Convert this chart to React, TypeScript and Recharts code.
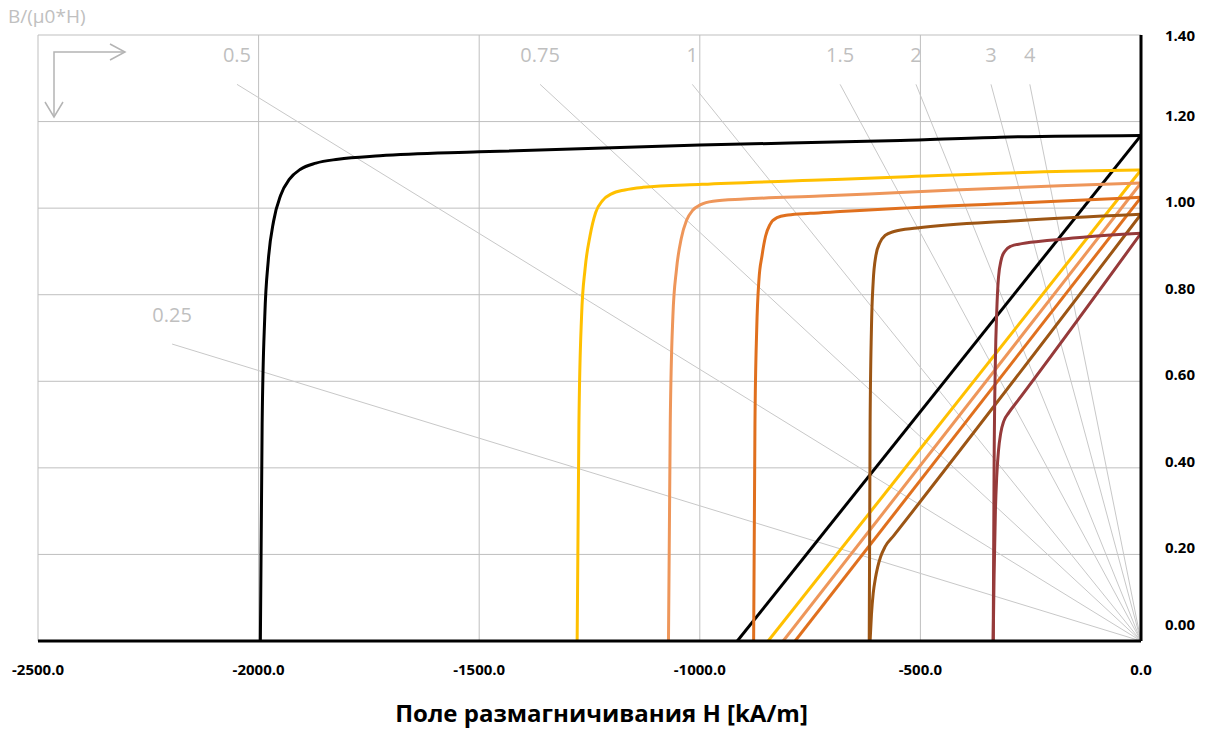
import React from 'react';
import { LineChart, Line, XAxis, YAxis, CartesianGrid, LabelList } from 'recharts';

// H [kA/m] (ascending), B [T]
const blackJ = [
  [-1996, 0], [-1992, 0.5], [-1986, 0.75], [-1978, 0.88], [-1966, 0.97], [-1950, 1.03],
  [-1930, 1.067], [-1905, 1.09], [-1870, 1.104], [-1820, 1.113], [-1725, 1.121],
  [-1500, 1.13], [-1000, 1.146], [-545, 1.156], [-320, 1.164], [0, 1.168],
];
const blackB = [[-915, 0], [0, 1.168]];

const yellowJ = [
  [-1278, 0], [-1274, 0.5], [-1268, 0.75], [-1260, 0.86], [-1249, 0.935], [-1236, 0.99],
  [-1220, 1.018], [-1200, 1.033], [-1170, 1.042], [-1129, 1.048], [-995, 1.055],
  [-728, 1.065], [-546, 1.072], [-168, 1.085], [0, 1.088],
];
const yellowB = [[-845, 0], [0, 1.088]];

const lightOrangeJ = [
  [-1071, 0], [-1067, 0.5], [-1061, 0.75], [-1053, 0.857], [-1042, 0.93], [-1030, 0.972],
  [-1016, 0.995], [-998, 1.008], [-970, 1.016], [-900, 1.021], [-728, 1.028],
  [-546, 1.036], [-184, 1.052], [0, 1.058],
];
const lightOrangeB = [[-811, 0], [0, 1.058]];

const orangeJ = [
  [-878, 0], [-875, 0.5], [-871, 0.72], [-866, 0.834], [-859, 0.89], [-851, 0.935],
  [-841, 0.962], [-825, 0.978], [-800, 0.984], [-750, 0.988], [-682, 0.992],
  [-546, 1.0], [-229, 1.014], [0, 1.025],
];
const orangeB = [[-784, 0], [0, 1.025]];

const brownJ = [
  [-616, 0], [-614, 0.5], [-611, 0.72], [-607, 0.83], [-601, 0.89], [-592, 0.92],
  [-580, 0.937], [-560, 0.946], [-508, 0.954], [-281, 0.971], [0, 0.986],
];
const brownB = [
  [-614, 0], [-611, 0.06], [-607, 0.11], [-602, 0.145], [-597, 0.17], [-590, 0.195],
  [-580, 0.218], [-560, 0.244], [0, 0.986],
];

const maroonJ = [
  [-335, 0], [-333, 0.4], [-330, 0.65], [-327, 0.76], [-323, 0.84], [-317, 0.88],
  [-309, 0.9], [-295, 0.912], [-270, 0.918], [-206, 0.926], [-131, 0.933], [0, 0.942],
];
const maroonB = [
  [-335, 0], [-333, 0.15], [-330, 0.3], [-327, 0.38], [-323, 0.44], [-318, 0.48],
  [-311, 0.508], [-300, 0.527], [-280, 0.554], [0, 0.942],
];

// permeance coefficient lines: label, start H, start B (end at origin)
const loadNames = ['0.25', '0.5', '0.75', '1', '1.5', '2', '3', '4'];
const loadStartH = [-2196, -2049, -1362, -1017, -682, -510, -340, -252];
const loadStartB = [0.686, 1.286, 1.286, 1.286, 1.286, 1.286, 1.286, 1.286];

const xTicks = [-2500, -2000, -1500, -1000, -500, 0];
const yTicks = [0, 0.2, 0.4, 0.6, 0.8, 1.0, 1.2, 1.4];

const curves = [
  { id: 'blackJ', pts: blackJ, color: '#000000' },
  { id: 'blackB', pts: blackB, color: '#000000' },
  { id: 'yellowJ', pts: yellowJ, color: '#FFC000' },
  { id: 'yellowB', pts: yellowB, color: '#FFC000' },
  { id: 'lightOrangeJ', pts: lightOrangeJ, color: '#EE965A' },
  { id: 'lightOrangeB', pts: lightOrangeB, color: '#EE965A' },
  { id: 'orangeJ', pts: orangeJ, color: '#E0701E' },
  { id: 'orangeB', pts: orangeB, color: '#E0701E' },
  { id: 'brownJ', pts: brownJ, color: '#9C5514' },
  { id: 'brownB', pts: brownB, color: '#9C5514' },
  { id: 'maroonJ', pts: maroonJ, color: '#963A3A' },
  { id: 'maroonB', pts: maroonB, color: '#963A3A' },
];

const FONT = '"Open Sans", sans-serif';
const GRAY = '#bfbfbf';

const toRows = (pts: number[][]) => pts.map(([h, b]) => ({ h, b }));

const loadLines = loadNames.map((name, i) => ({
  name,
  rows: [
    { h: loadStartH[i], b: loadStartB[i], name },
    { h: 0, b: 0, name: '' },
  ],
}));

const LoadLabel = (props: any) => {
  const { value } = props;
  if (!value) return null;
  const x = props.x ?? props.viewBox?.x;
  const y = props.y ?? props.viewBox?.y;
  return (
    <text x={x} y={y - 22} textAnchor="middle" fill={GRAY} fontSize={20} fontFamily={FONT}>
      {value}
    </text>
  );
};

const RightTick = (props: any) => {
  const { x, y, payload } = props;
  const v = payload.value;
  const dy = v >= 1.4 ? 0 : v === 0 ? -17 : -7;
  return (
    <text
      x={x}
      y={y + dy}
      textAnchor="start"
      dominantBaseline="central"
      fill="#000"
      fontSize={15}
      fontWeight="bold"
      fontFamily={FONT}
    >
      {v.toFixed(2)}
    </text>
  );
};

export default function App() {
  return (
    <div style={{ position: 'absolute', left: 0, top: 0, width: 1205, height: 733, background: '#fff' }}>
      <LineChart width={1205} height={733} margin={{ top: 35, right: 4, bottom: 0, left: 38 }}>
        <CartesianGrid stroke={GRAY} strokeWidth={1} />
        <XAxis
          type="number"
          dataKey="h"
          domain={[-2500, 0]}
          ticks={xTicks}
          allowDataOverflow
          height={92}
          tickLine={false}
          tickMargin={17}
          axisLine={{ stroke: '#000', strokeWidth: 3 }}
          tickFormatter={(v: number) => v.toFixed(1)}
          tick={{ fill: '#000', fontSize: 15, fontWeight: 'bold', fontFamily: FONT }}
          label={{
            value: 'Поле размагничивания H [kA/m]',
            position: 'insideBottom',
            offset: 11,
            dx: 12,
            fill: '#000',
            fontSize: 24,
            fontWeight: 'bold',
            fontFamily: FONT,
          }}
        />
        <YAxis
          type="number"
          dataKey="b"
          orientation="right"
          domain={[0, 1.4]}
          ticks={yTicks}
          allowDataOverflow
          width={60}
          tickLine={false}
          tickMargin={18}
          axisLine={{ stroke: '#000', strokeWidth: 3 }}
          tick={<RightTick />}
        />
        {loadLines.map((l) => (
          <Line
            key={'load' + l.name}
            data={l.rows}
            dataKey="b"
            type="linear"
            stroke="#c8c8c8"
            strokeWidth={1}
            dot={false}
            activeDot={false}
            isAnimationActive={false}
          >
            <LabelList dataKey="name" content={<LoadLabel />} />
          </Line>
        ))}
        {curves.map((c) => (
          <Line
            key={c.id}
            data={toRows(c.pts)}
            dataKey="b"
            type={c.pts.length > 2 ? 'monotone' : 'linear'}
            stroke={c.color}
            strokeWidth={3}
            dot={false}
            activeDot={false}
            isAnimationActive={false}
          />
        ))}
      </LineChart>
      <svg
        width={1205}
        height={733}
        style={{ position: 'absolute', left: 0, top: 0, pointerEvents: 'none' }}
      >
        <text x={8} y={23} fill="#c0c0c0" fontSize={19} fontFamily={FONT}>
          B/(μ0*H)
        </text>
        <g stroke="#b4b4b4" strokeWidth={1.5} fill="none">
          <polyline points="54,117 54,52 125,52" />
          <polyline points="110,44 125,52 110,60" />
          <polyline points="45,102 54,117 63,102" />
        </g>
      </svg>
    </div>
  );
}
